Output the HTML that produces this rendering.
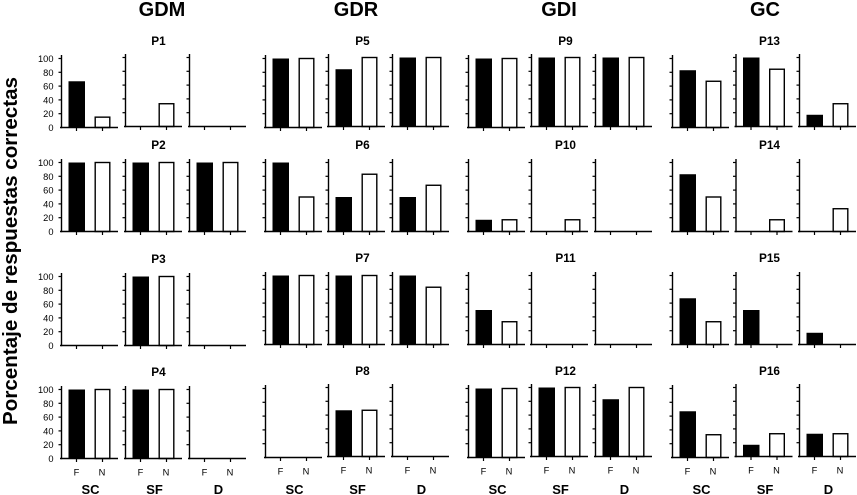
<!DOCTYPE html>
<html lang="es">
<head>
<meta charset="utf-8">
<title>Porcentaje de respuestas correctas</title>
<style>
html,body{margin:0;padding:0;background:#fff;}
svg{display:block;font-family:"Liberation Sans",Arial,sans-serif;}
</style>
</head>
<body>
<svg id="chart" xmlns="http://www.w3.org/2000/svg" width="857" height="495" viewBox="0 0 857 495">
<rect x="0" y="0" width="857" height="495" fill="#fff"/>
<text transform="translate(17,251) rotate(-90)" text-anchor="middle" font-size="20.6" font-weight="bold">Porcentaje de respuestas correctas</text>
</svg>
<script>
const groups = ["GDM", "GDR", "GDI", "GC"];
const conditions = ["SC", "SF", "D"];
const categories = ["F", "N"];
const yTicks = [0, 20, 40, 60, 80, 100];

// One row per question P1..P16: values for SC, SF, D
const fValues = [
  [67, 0, 0], [100, 100, 100], [0, 100, 0], [100, 100, 0],
  [100, 83, 100], [100, 50, 50], [100, 100, 100], [0, 67, 0],
  [100, 100, 100], [17, 0, 0], [50, 0, 0], [100, 100, 83],
  [83, 100, 17], [83, 0, 0], [67, 50, 17], [67, 17, 33]
];
const nValues = [
  [15, 33, 0], [100, 100, 100], [0, 100, 0], [100, 100, 0],
  [100, 100, 100], [50, 83, 67], [100, 100, 83], [0, 67, 0],
  [100, 100, 100], [17, 17, 0], [33, 0, 0], [100, 100, 100],
  [67, 83, 33], [50, 17, 33], [33, 0, 0], [33, 33, 33]
];

const svg = document.getElementById("chart");
const NS = "http://www.w3.org/2000/svg";

function make(tag, attrs, text) {
  const el = document.createElementNS(NS, tag);
  for (const k in attrs) el.setAttribute(k, attrs[k]);
  if (text !== undefined) el.textContent = text;
  svg.appendChild(el);
  return el;
}

function groupX(g) {
  return g === 0 ? 61.5 : g === 1 ? 265.5 : g === 2 ? 468.5 : 672.5;
}
function panelX(g, c) {
  if (c === 0) return groupX(g);
  const second = g === 0 ? 64 : g === 3 ? 63.5 : 63;
  return groupX(g) + second + (c === 2 ? (g === 3 ? 63.5 : 64) : 0);
}
function headingX(g) {
  return g === 0 ? 162 : g === 1 ? 356 : g === 2 ? 559 : 765;
}
function panelBase(g, r, c) {
  if (r === 0) return c === 0 ? 127.5 : 126.5;
  if (r === 1) return 231.5;
  if (r === 2) return g === 0 ? 345.5 : 344.5;
  if (g === 0) return 458.5;
  return c === 0 ? 457.5 : 456.5;
}
function yScale(v, g, r, c) { return panelBase(g, r, c) - v * 0.69; }

groups.forEach(function (name, g) {
  const head = make("text", { x: headingX(g), y: 16, "text-anchor": "middle", "font-size": 20, "font-weight": "bold" }, name);
  
  

  conditions.forEach(function (cond, c) {
    const lab = make("text", { x: panelX(g, c) + 29, y: 494, "text-anchor": "middle", "font-size": 13, "font-weight": "bold" }, cond);
    
    
  });

  for (let r = 0; r < 4; r++) {
    const q = g * 4 + r;
    const ptitle = make("text", { x: groupX(g) + 97, y: panelBase(g, r, 0) - 82.5, "text-anchor": "middle", "font-size": 11.8, "font-weight": "bold" }, "P" + (q + 1));
    
    

    conditions.forEach(function (cond, c) {
      const x0 = panelX(g, c);
      const base = panelBase(g, r, c);

      // Bars
      const fV = fValues[q][c];
      const nV = nValues[q][c];
      if (fV > 0) {
        const fBar = make("rect", { x: x0 + 7, y: yScale(fV, g, r, c), width: 16.5, height: base - yScale(fV, g, r, c), fill: "#000" });
        
        
      }
      if (nV > 0) {
        const nBar = make("rect", { x: x0 + 33.7, y: yScale(nV, g, r, c), width: 14.6, height: base - yScale(nV, g, r, c), fill: "#fff", stroke: "#000", "stroke-width": 1.4 });
        
        
      }

      // Axes
      const yAxis = make("line", { x1: x0, x2: x0, y1: yScale(100, g, r, c) - 3.5, y2: base + 0.7, stroke: "#000", "stroke-width": 1.4 });
      
      
      const xAxis = make("line", { x1: x0 - 1.5, x2: x0 + 56.5, y1: base, y2: base, stroke: "#000", "stroke-width": 1.4 });
      
      

      yTicks.forEach(function (t) {
        const yt = yScale(t, g, r, c);
        if (t > 0) {
          const tick = make("line", { x1: x0 - 3, x2: x0, y1: yt, y2: yt, stroke: "#000", "stroke-width": 1.2 });
          
          
        }
        if (g === 0 && c === 0) {
          const tl = make("text", { x: 53.5, y: yt + 3.5, "text-anchor": "end", "font-size": 9.3 }, String(t));
          
          
        }
      });

      categories.forEach(function (cat, i) {
        const cx = x0 + 15 + i * 26;
        const xt = make("line", { x1: cx, x2: cx, y1: base, y2: base + 3.5, stroke: "#000", "stroke-width": 1.2 });
        
        
        if (r === 3) {
          const xl = make("text", { x: cx - (i === 1 ? 0.5 : 0), y: base + 17, "text-anchor": "middle", "font-size": 9.3 }, cat);
          
          
        }
      });
    });
  }
});
</script>
</body>
</html>
